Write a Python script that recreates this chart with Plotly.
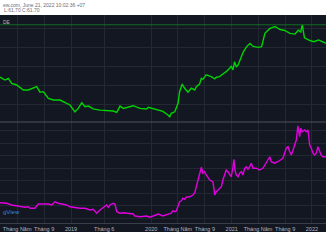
import plotly.graph_objects as go

# ---- data ----
price_dates = ["2018-02-12","2018-03-07","2018-03-22","2018-04-06","2018-04-29","2018-05-29","2018-06-21",
    "2018-07-14","2018-07-29","2018-08-13","2018-08-28","2018-09-20","2018-10-13","2018-11-12","2018-11-27",
    "2018-12-27","2019-01-19","2019-02-03","2019-02-19","2019-03-06","2019-03-21","2019-04-12","2019-05-13",
    "2019-06-12","2019-07-12","2019-07-28","2019-08-12","2019-08-27","2019-09-26","2019-10-11","2019-11-11",
    "2019-12-11","2019-12-19","2020-01-26","2020-02-23","2020-03-17","2020-03-25","2020-04-01","2020-04-17",
    "2020-05-02","2020-05-09","2020-05-21","2020-06-01","2020-06-16","2020-07-01","2020-07-17","2020-07-24",
    "2020-08-08","2020-08-16","2020-08-23","2020-09-07","2020-09-30","2020-10-16","2020-10-23","2020-11-07",
    "2020-11-22","2020-12-07","2020-12-23","2020-12-30","2021-01-07","2021-01-14","2021-01-22","2021-01-30",
    "2021-02-08","2021-02-23","2021-03-10","2021-03-25","2021-04-09","2021-05-02","2021-05-17","2021-06-01",
    "2021-06-24","2021-07-17","2021-08-09","2021-08-31","2021-09-23","2021-10-16","2021-10-31","2021-11-11",
    "2021-11-18","2021-11-28","2021-12-23","2022-01-10","2022-01-31","2022-02-20","2022-03-06"]
price_values = [34.1,32.6,33.5,30.9,30.0,27.4,27.4,28.3,29.1,26.2,26.5,23.0,22.1,22.1,21.2,
    19.5,15.9,17.7,20.7,18.6,18.9,17.4,16.8,16.5,16.3,15.6,18.9,17.7,18.6,19.1,17.7,
    17.4,18.3,16.8,16.1,14.2,13.3,15.1,15.9,20.4,26.5,30.5,28.3,26.2,28.3,27.4,29.1,
    30.5,33.5,33.0,35.3,34.4,33.2,34.1,34.4,35.8,37.0,38.8,40.0,37.9,42.3,39.6,40.5,
    43.2,47.5,50.2,51.9,50.3,49.8,50.2,57.2,59.8,60.8,59.2,58.7,57.2,56.8,58.8,57.9,
    61.6,54.8,53.4,52.8,53.7,52.8,51.9]

ind_dates = ["2018-02-12","2018-03-15","2018-04-06","2018-04-29","2018-06-06","2018-06-21","2018-06-29",
    "2018-07-21","2018-08-05","2018-08-28","2018-09-20","2018-10-05","2018-10-20","2018-11-04","2018-11-27",
    "2018-12-12","2018-12-27","2019-01-11","2019-02-11","2019-03-06","2019-03-28","2019-04-12","2019-04-28",
    "2019-05-13","2019-06-05","2019-06-12","2019-06-20","2019-06-27","2019-07-12","2019-07-20","2019-07-28",
    "2019-08-12","2019-08-27","2019-09-11","2019-10-11","2019-10-19","2019-11-11","2019-12-11","2019-12-26",
    "2020-01-10","2020-02-02","2020-02-23","2020-03-09","2020-03-25","2020-04-01","2020-04-09","2020-04-17",
    "2020-04-24","2020-05-02","2020-05-09","2020-05-17","2020-05-24","2020-06-01","2020-06-08","2020-06-24",
    "2020-07-09","2020-07-17","2020-07-24","2020-08-01","2020-08-08","2020-08-16","2020-08-23","2020-08-31",
    "2020-09-07","2020-09-15","2020-09-23","2020-10-08","2020-10-16","2020-10-23","2020-11-07","2020-11-15",
    "2020-11-22","2020-11-30","2020-12-07","2020-12-15","2020-12-23","2020-12-30","2021-01-07","2021-01-11",
    "2021-01-16","2021-01-22","2021-01-30","2021-02-06","2021-02-14","2021-02-21","2021-03-01","2021-03-08",
    "2021-03-16","2021-03-24","2021-03-31","2021-04-08","2021-04-23","2021-05-08","2021-05-23","2021-06-07",
    "2021-06-15","2021-06-23","2021-06-30","2021-07-15","2021-07-30","2021-08-14","2021-08-22","2021-09-06",
    "2021-09-14","2021-09-22","2021-09-29","2021-10-07","2021-10-14","2021-10-22","2021-10-29","2021-11-03",
    "2021-11-06","2021-11-11","2021-11-18","2021-11-29","2021-12-06","2021-12-14","2021-12-22","2021-12-29",
    "2022-01-06","2022-01-13","2022-01-21","2022-01-28","2022-02-05","2022-02-12","2022-02-20","2022-03-06"]
ind_values = [12.2,11.8,10.4,9.6,8.6,9.0,7.8,7.8,11.2,11.2,11.2,10.4,13.0,11.8,11.2,
    10.4,9.0,8.6,7.8,7.8,6.4,7.0,3.8,6.4,9.6,10.4,8.6,10.4,11.8,11.2,5.0,
    3.8,4.2,3.8,3.2,1.6,1.0,1.6,0.6,1.6,3.2,1.6,2.4,3.8,3.8,5.8,5.0,
    5.6,9.0,13.0,13.8,15.8,15.0,16.6,17.0,18.4,20.2,25.0,30.4,35.8,40.6,35.8,37.0,
    34.4,31.8,30.4,28.8,18.4,21.0,23.8,25.0,30.4,34.4,38.4,37.0,34.4,33.0,41.0,47.0,
    38.4,34.4,33.0,35.8,37.0,34.4,39.8,41.0,39.0,41.0,43.8,39.8,39.8,38.4,39.8,43.8,
    46.4,49.0,45.0,43.8,45.0,46.4,47.8,55.8,57.0,53.0,50.4,54.4,58.4,62.4,73.8,69.0,
    65.0,71.8,69.0,70.4,69.0,70.4,58.4,55.8,51.8,50.4,51.8,57.0,53.0,50.4,49.0,49.0]

tick_dates = ["2018-05-01","2018-09-01","2019-01-01","2019-06-01","2020-01-01","2020-05-01",
              "2020-09-01","2021-01-01","2021-05-01","2021-09-01","2022-01-01"]
tick_labels = ["Tháng Năm","Tháng 9","2019","Tháng 6","2020","Tháng Năm",
               "Tháng 9","2021","Tháng Năm","Tháng 9","2022"]
last_close = 61.70
x_range = ["2018-02-12", "2022-03-06"]

BG = "#131722"
GRID = "#242832"
TXT = "#b2b5be"

fig = go.Figure()
fig.add_trace(go.Scatter(x=price_dates, y=price_values, mode="lines",
                         line=dict(color="#00d400", width=1.4), xaxis="x2", yaxis="y",
                         hoverinfo="skip"))
fig.add_trace(go.Scatter(x=ind_dates, y=ind_values, mode="lines",
                         line=dict(color="#e000e0", width=1.4), xaxis="x", yaxis="y2",
                         hoverinfo="skip"))

H = 245
top, bot = 15, 223
span = bot - top
def py(px):
    return (bot - px) / span

split = py(122)

fig.update_layout(
    width=326, height=245,
    margin=dict(l=0, r=0, t=top, b=H - bot),
    paper_bgcolor="white", plot_bgcolor=BG,
    showlegend=False,
    font=dict(family="Liberation Sans, Arial", size=6, color=TXT),
    xaxis=dict(type="date", range=x_range, domain=[0, 1], anchor="y2",
               tickvals=tick_dates, ticktext=tick_labels, ticks="",
               showgrid=True, gridcolor=GRID, gridwidth=1, zeroline=False,
               showline=True, linecolor="#3a3e4a", linewidth=1,
               tickfont=dict(size=5.5, color=TXT), ticklabelstandoff=0),
    xaxis2=dict(type="date", range=x_range, domain=[0, 1], anchor="y", matches="x",
                tickvals=tick_dates, showticklabels=False, ticks="",
                showgrid=True, gridcolor=GRID, gridwidth=1, zeroline=False),
    yaxis=dict(domain=[split, 1], range=[10.53, 66.84], dtick=10, tick0=0,
               showticklabels=False, ticks="", showgrid=True, gridcolor=GRID,
               zeroline=False),
    yaxis2=dict(domain=[0, split], range=[-4, 76.8], dtick=10, tick0=0,
                showticklabels=False, ticks="", showgrid=True, gridcolor=GRID,
                zeroline=False),
)

shapes = [
    dict(type="rect", xref="paper", yref="paper", x0=0, x1=1, y0=py(232), y1=1,
         fillcolor=BG, line=dict(width=0), layer="below"),
    dict(type="line", xref="paper", yref="paper", x0=0, x1=1, y0=split, y1=split,
         line=dict(color="#50535e", width=1)),
    dict(type="line", xref="paper", yref="y", x0=0, x1=1, y0=last_close, y1=last_close,
         line=dict(color="rgba(20,130,35,0.8)", width=1)),
]
fig.update_layout(shapes=shapes)

W = 326
ann = [
    dict(text="ew.com, June 21, 2022 10:02:36 +07", x=0.5 / W, y=py(5),
         xanchor="left", yanchor="middle", font=dict(size=5, color="#6a6d78")),
    dict(text="L:61.70 C:61.70", x=1.5 / W, y=py(10.5),
         xanchor="left", yanchor="middle", font=dict(size=5, color="#6a6d78")),
    dict(text="DE", x=0.5 / W, y=py(22), xanchor="left", yanchor="middle",
         font=dict(size=5, color=TXT)),
    dict(text="gView", x=0.5 / W, y=py(212), xanchor="left", yanchor="middle",
         font=dict(size=6, color="#3b82d6")),
]
for a in ann:
    a.update(xref="paper", yref="paper", showarrow=False)
fig.update_layout(annotations=ann)

fig.write_html("out.html")
